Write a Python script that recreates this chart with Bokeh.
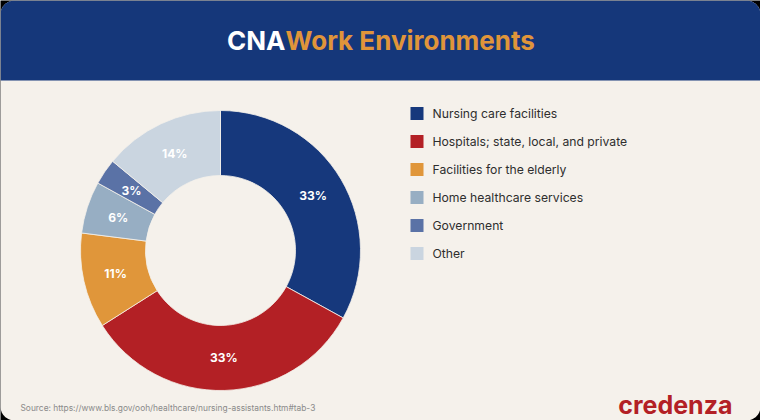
import numpy as np
from bokeh.plotting import figure
from bokeh.models import Range1d, ColumnDataSource
from bokeh.core.properties import value
from bokeh.embed import file_html
from bokeh.resources import INLINE

# --- data -------------------------------------------------------------
categories = [
    "Nursing care facilities",
    "Hospitals; state, local, and private",
    "Facilities for the elderly",
    "Home healthcare services",
    "Government",
    "Other",
]
shares = [33, 33, 11, 6, 3, 14]
colors = ["#16387c", "#b32025", "#e0963a", "#97aec3", "#5a72a6", "#cad5e0"]

title_left = "CNA"
title_right = "Work Environments"
source_note = "Source: https://www.bls.gov/ooh/healthcare/nursing-assistants.htm#tab-3"
brand = "credenza"

# --- canvas (1 data unit = 1 pixel, y measured downward via H - y) ----
W, H = 760, 420
BG = "#f5f1eb"
NAVY = "#15377a"
FONT = value("Inter")

p = figure(width=W, height=H, x_range=Range1d(0, W), y_range=Range1d(0, H),
           output_backend="svg", toolbar_location=None, min_border=0,
           x_axis_type=None, y_axis_type=None)
p.grid.visible = False
p.outline_line_color = None
p.background_fill_color = "#000000"
p.border_fill_color = "#000000"


def yy(v):
    return H - v


def rounded_box(x0, y0, x1, y1, r, round_bottom=True):
    """Outline of a box (top-down pixel coords) with rounded corners."""
    xs, ys = [], []
    corners = [
        (x1 - r, y0 + r, 90, 0, True),      # top-right
        (x1 - r, y1 - r, 0, -90, round_bottom),  # bottom-right
        (x0 + r, y1 - r, -90, -180, round_bottom),  # bottom-left
        (x0 + r, y0 + r, 180, 90, True),    # top-left
    ]
    for cx, cy, a0, a1, rounded in corners:
        if rounded:
            t = np.radians(np.linspace(a0, a1, 16))
            xs += list(cx + r * np.cos(t))
            ys += list(yy(cy - r * np.sin(t)))
        else:
            px = x1 if cx > W / 2 else x0
            xs.append(px)
            ys.append(yy(y1))
    return xs, ys


cx_, cy_ = rounded_box(0, 0, W, H, 14)
p.patch(cx_, cy_, fill_color=BG, line_color=None)
hx, hy = rounded_box(0, 0, W, 80, 14, round_bottom=False)
p.patch(hx, hy, fill_color=NAVY, line_color=None)

# --- title --------------------------------------------------------------
split_x = 285
p.text(x=[split_x], y=[yy(40)], text=[title_left], text_color="#ffffff",
       text_font=FONT, text_font_size="26px", text_font_style="bold",
       text_align="right", text_baseline="middle")
p.text(x=[split_x], y=[yy(40)], text=[title_right], text_color="#e0953a",
       text_font=FONT, text_font_size="26px", text_font_style="bold",
       text_align="left", text_baseline="middle")

# --- donut ----------------------------------------------------------------
cx, cy = 220, yy(250)
r_in, r_out = 75, 140
frac = np.array(shares, dtype=float) / sum(shares)
cum = np.concatenate([[0], np.cumsum(frac)])
start = np.pi / 2 - 2 * np.pi * cum[:-1]
end = np.pi / 2 - 2 * np.pi * cum[1:]
mid = (start + end) / 2

donut = ColumnDataSource(dict(start=start, end=end, color=colors))
p.annular_wedge(x=cx, y=cy, inner_radius=r_in, outer_radius=r_out,
                start_angle="start", end_angle="end", direction="clock",
                fill_color="color", line_color=BG, line_width=0.8,
                source=donut)

r_lab = (r_in + r_out) / 2
labels = ColumnDataSource(dict(
    x=cx + r_lab * np.cos(mid),
    y=cy + r_lab * np.sin(mid),
    t=[f"{s}%" for s in shares],
))
p.text(x="x", y="y", text="t", source=labels, text_color="#ffffff",
       text_font=FONT, text_font_size="12px", text_font_style="bold",
       text_align="center", text_baseline="middle")

# --- legend -----------------------------------------------------------------
row_y = [yy(113 + 28 * i) for i in range(len(categories))]
legend = ColumnDataSource(dict(y=row_y, color=colors, name=categories))
p.scatter(x=416.5, y="y", marker="square", size=13, fill_color="color",
          line_color=None, source=legend)
p.text(x=432, y="y", text="name", source=legend, text_color="#2e2e2e",
       text_font=FONT, text_font_size="12.2px", text_align="left",
       text_baseline="middle")

# --- footer -----------------------------------------------------------------
p.text(x=[20], y=[yy(407)], text=[source_note], text_color="#8a8a8a",
       text_font=FONT, text_font_size="8.4px", text_align="left",
       text_baseline="middle")
p.text(x=[732], y=[yy(404)], text=[brand], text_color="#b32025",
       text_font=FONT, text_font_size="25px", text_font_style="bold",
       text_align="right", text_baseline="middle")

open("out.html", "w").write(file_html(p, INLINE))
